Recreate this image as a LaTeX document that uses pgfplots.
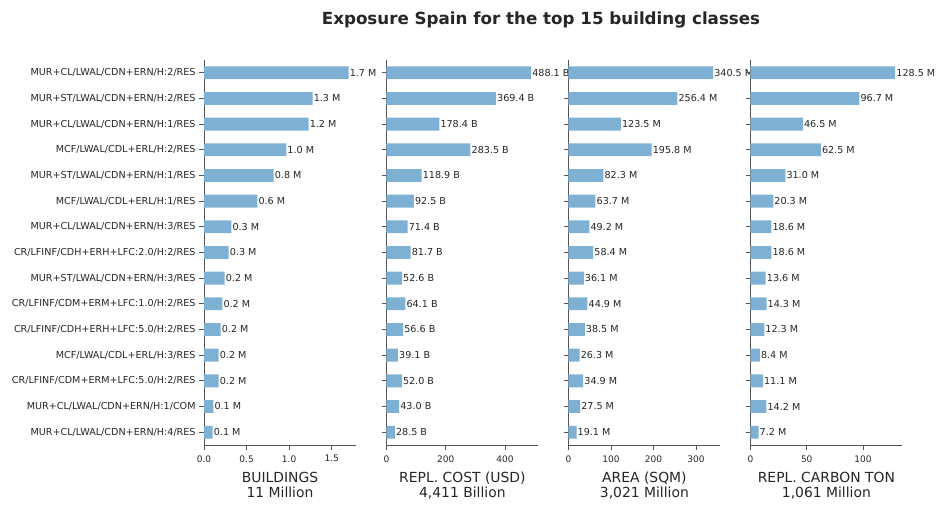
\documentclass[border=0pt]{standalone}
\usepackage{pgfplots}
\pgfplotsset{compat=1.18}
\usepackage{pgfplotstable}
\usepackage{fontspec}
\setmainfont{DejaVu Sans}
\definecolor{txt}{HTML}{262626}
\definecolor{spine}{HTML}{555555}
\definecolor{barc}{HTML}{7EB0D4}

\pgfplotstableread{
i bld bldl cost area carb
0  1.698 1.7 488.1 340.5 128.5
1  1.275 1.3 369.4 256.4 96.7
2  1.228 1.2 178.4 123.5 46.5
3  0.966 1.0 283.5 195.8 62.5
4  0.818 0.8 118.9 82.3 31.0
5  0.626 0.6 92.5 63.7 20.3
6  0.321 0.3 71.4 49.2 18.6
7  0.290 0.3 81.7 58.4 18.6
8  0.243 0.2 52.6 36.1 13.6
9  0.215 0.2 64.1 44.9 14.3
10 0.196 0.2 56.6 38.5 12.3
11 0.172 0.2 39.1 26.3 8.4
12 0.172 0.2 52.0 34.9 11.1
13 0.110 0.1 43.0 27.5 14.2
14 0.102 0.1 28.5 19.1 7.2
}\data

\pgfplotsset{
  panel/.style={
    scale only axis, width=152pt, height=385pt,
    xbar, bar width=0.5, y dir=reverse,
    ymin=-0.5, ymax=14.5, ytick={0,...,14}, xmin=0,
    axis x line*=bottom, axis y line*=left,
    tick align=outside, major tick length=4.9pt,
    axis line style={spine, line width=0.7pt},
    tick style={spine, line width=0.7pt},
    every tick label/.style={font=\fontsize{9.6}{11}\selectfont, text=txt},
    /pgf/number format/assume math mode=true,
    xticklabel style={font=\fontsize{9.0}{11}\selectfont, text=txt, yshift=-2pt},
    xlabel style={align=center, font=\fontsize{13.9}{15}\selectfont, text=txt, yshift=-3pt},
    nodes near coords style={font=\fontsize{9.6}{11}\selectfont, text=txt, anchor=west, inner xsep=1pt},
    clip=false,
    yticklabels={},
  },
  barsty/.style={fill=barc, draw=none},
}

\begin{document}
\begin{tikzpicture}
\path[use as bounding box] (-204pt,-65pt) rectangle (741pt,445pt);
\node[font=\bfseries\fontsize{16.7}{20}\selectfont, text=txt] at (337pt,425pt) {Exposure Spain for the top 15 building classes};

\begin{axis}[panel, at={(0pt,0pt)}, anchor=south west,
  xmax=1.785, xtick={0,0.5,1,1.5},
  xticklabel style={/pgf/number format/.cd, fixed, fixed zerofill, precision=1},
  yticklabels={MUR+CL/LWAL/CDN+ERN/H:2/RES, MUR+ST/LWAL/CDN+ERN/H:2/RES, MUR+CL/LWAL/CDN+ERN/H:1/RES, MCF/LWAL/CDL+ERL/H:2/RES, MUR+ST/LWAL/CDN+ERN/H:1/RES, MCF/LWAL/CDL+ERL/H:1/RES, MUR+CL/LWAL/CDN+ERN/H:3/RES, CR/LFINF/CDH+ERH+LFC:2.0/H:2/RES, MUR+ST/LWAL/CDN+ERN/H:3/RES, CR/LFINF/CDM+ERM+LFC:1.0/H:2/RES, CR/LFINF/CDH+ERH+LFC:5.0/H:2/RES, MCF/LWAL/CDL+ERL/H:3/RES, CR/LFINF/CDM+ERM+LFC:5.0/H:2/RES, MUR+CL/LWAL/CDN+ERN/H:1/COM, MUR+CL/LWAL/CDN+ERN/H:4/RES},
  xlabel={BUILDINGS\\11 Million},
  point meta=explicit symbolic,
  nodes near coords={\pgfplotspointmeta~M},
]
\addplot[barsty] table[x=bld, y=i, meta=bldl] {\data};
\end{axis}

\begin{axis}[panel, at={(182.4pt,0pt)}, anchor=south west,
  xmax=512.5, xtick={0,200,400},
  xlabel={REPL. COST (USD)\\4,411 Billion},
  point meta=x,
  nodes near coords={\pgfmathprintnumber[fixed,fixed zerofill,precision=1]{\pgfplotspointmeta}~B},
]
\addplot[barsty] table[x=cost, y=i] {\data};
\end{axis}

\begin{axis}[panel, at={(364.4pt,0pt)}, anchor=south west,
  xmax=357.5, xtick={0,100,200,300},
  xlabel={AREA (SQM)\\3,021 Million},
  point meta=x,
  nodes near coords={\pgfmathprintnumber[fixed,fixed zerofill,precision=1]{\pgfplotspointmeta}~M},
]
\addplot[barsty] table[x=area, y=i] {\data};
\end{axis}

\begin{axis}[panel, at={(546.4pt,0pt)}, anchor=south west,
  xmax=134.9, xtick={0,50,100},
  xlabel={REPL. CARBON TON\\1,061 Million},
  point meta=x,
  nodes near coords={\pgfmathprintnumber[fixed,fixed zerofill,precision=1]{\pgfplotspointmeta}~M},
]
\addplot[barsty] table[x=carb, y=i] {\data};
\end{axis}
\end{tikzpicture}
\end{document}
